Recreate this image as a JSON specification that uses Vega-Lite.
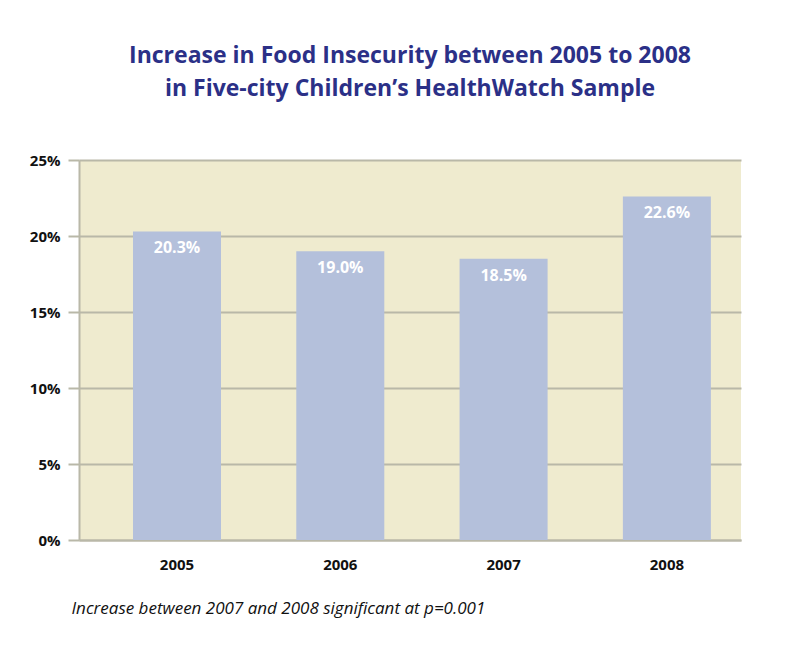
{
  "$schema": "https://vega.github.io/schema/vega-lite/v6.json",
  "width": 662,
  "height": 380,
  "autosize": {"type": "none"},
  "padding": {"left": 79, "top": 160, "right": 50, "bottom": 114},
  "background": "#ffffff",
  "config": {
    "view": {"fill": "#EFEBCF", "stroke": null},
    "font": "Open Sans",
    "axis": {
      "labelFont": "Open Sans",
      "labelFontWeight": "bold",
      "labelFontSize": 15,
      "labelColor": "#111111",
      "domainColor": "#B9B8A8",
      "domainWidth": 2,
      "gridColor": "#B9B8A8",
      "gridWidth": 2,
      "tickColor": "#B9B8A8",
      "tickWidth": 2
    },
    "title": {
      "font": "Open Sans",
      "fontWeight": "bold",
      "fontSize": 23,
      "color": "#2B3087",
      "anchor": "middle",
      "lineHeight": 33,
      "offset": 52
    }
  },
  "title": {
    "text": [
      "Increase in Food Insecurity between 2005 to 2008",
      "in Five-city Children’s HealthWatch Sample"
    ]
  },
  "data": {
    "values": [
      {"year": "2005", "rate": 0.203},
      {"year": "2006", "rate": 0.190},
      {"year": "2007", "rate": 0.185},
      {"year": "2008", "rate": 0.226}
    ]
  },
  "encoding": {
    "x": {
      "field": "year",
      "type": "nominal",
      "sort": null,
      "scale": {"type": "band", "paddingInner": 0.461, "paddingOuter": 0.2575, "align": 0.642},
      "axis": {
        "title": "Increase between 2007 and 2008 significant at p=0.001",
        "titleFont": "Open Sans",
        "titleFontStyle": "italic",
        "titleFontWeight": "normal",
        "titleFontSize": 17,
        "titleColor": "#111111",
        "titleAnchor": "start",
        "titleAlign": "left",
        "titleX": -8,
        "titlePadding": 28,
        "labelAngle": 0,
        "labelPadding": 17,
        "ticks": false,
        "grid": false
      }
    },
    "y": {
      "field": "rate",
      "type": "quantitative",
      "scale": {"domain": [0, 0.25]},
      "axis": {
        "title": null,
        "format": ".0%",
        "values": [0, 0.05, 0.1, 0.15, 0.2, 0.25],
        "tickSize": 11,
        "labelPadding": 8
      }
    }
  },
  "layer": [
    {
      "mark": {"type": "bar", "color": "#B4C0DB"}
    },
    {
      "mark": {
        "type": "text",
        "color": "#ffffff",
        "font": "Open Sans",
        "fontWeight": "bold",
        "fontSize": 16,
        "baseline": "top",
        "dy": 9
      },
      "encoding": {
        "text": {"field": "rate", "type": "quantitative", "format": ".1%"}
      }
    }
  ]
}
